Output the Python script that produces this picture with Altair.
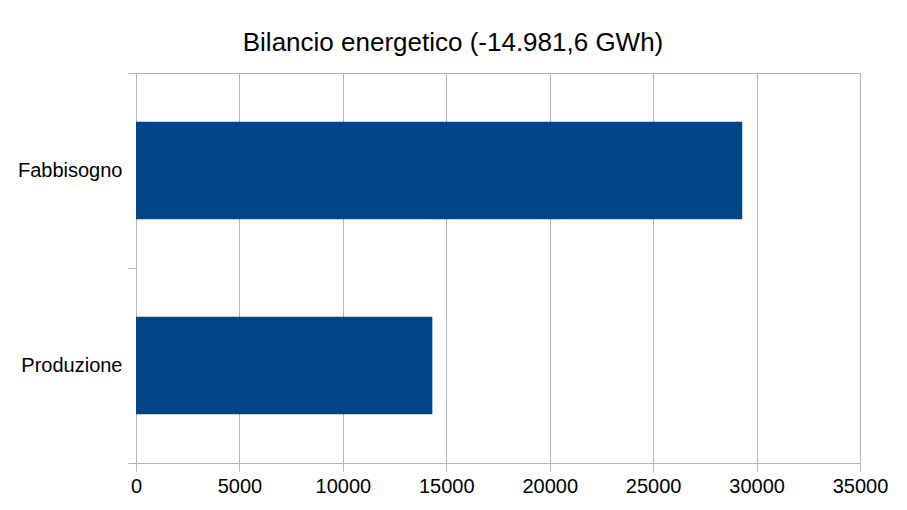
import altair as alt
import pandas as pd

# Energy balance data (GWh)
categorie = ["Fabbisogno", "Produzione"]
valori = [29307.6, 14326.0]

df = pd.DataFrame({"voce": categorie, "gwh": valori})

grigio = "#b3b3b3"
font = "Liberation Sans"

bars = (
    alt.Chart(df)
    .mark_bar(color="#004586", height=alt.RelativeBandSize(0.5))
    .encode(
        x=alt.X(
            "gwh:Q",
            scale=alt.Scale(domain=[0, 35000], nice=False),
            axis=alt.Axis(
                values=[0, 5000, 10000, 15000, 20000, 25000, 30000, 35000],
                format="d",
                title=None,
                grid=True,
                gridColor=grigio,
                domainColor=grigio,
                tickColor=grigio,
                tickSize=8,
                labelFlush=False,
                labelPadding=5,
                labelFontSize=20,
                labelFont=font,
                labelColor="#000000",
            ),
        ),
        y=alt.Y(
            "voce:N",
            sort=categorie,
            scale=alt.Scale(paddingInner=0, paddingOuter=0),
            axis=alt.Axis(
                title=None,
                tickBand="extent",
                domainColor=grigio,
                tickColor=grigio,
                tickSize=8,
                labelPadding=6,
                labelFontSize=20,
                labelFont=font,
                labelColor="#000000",
            ),
        ),
    )
    .properties(
        width=724,
        height=390,
        title=alt.TitleParams(
            "Bilancio energetico (-14.981,6 GWh)",
            font=font,
            fontSize=26,
            fontWeight="normal",
            color="#000000",
            anchor="middle",
            frame="group",
            dx=-45,
            offset=7,
        ),
        autosize=alt.AutoSizeParams(type="none"),
        padding={"left": 128, "top": 65, "right": 39, "bottom": 39},
    )
    .configure_view(stroke=grigio)
)

bars.save("out.html", embed_options={"renderer": "svg", "actions": False})
